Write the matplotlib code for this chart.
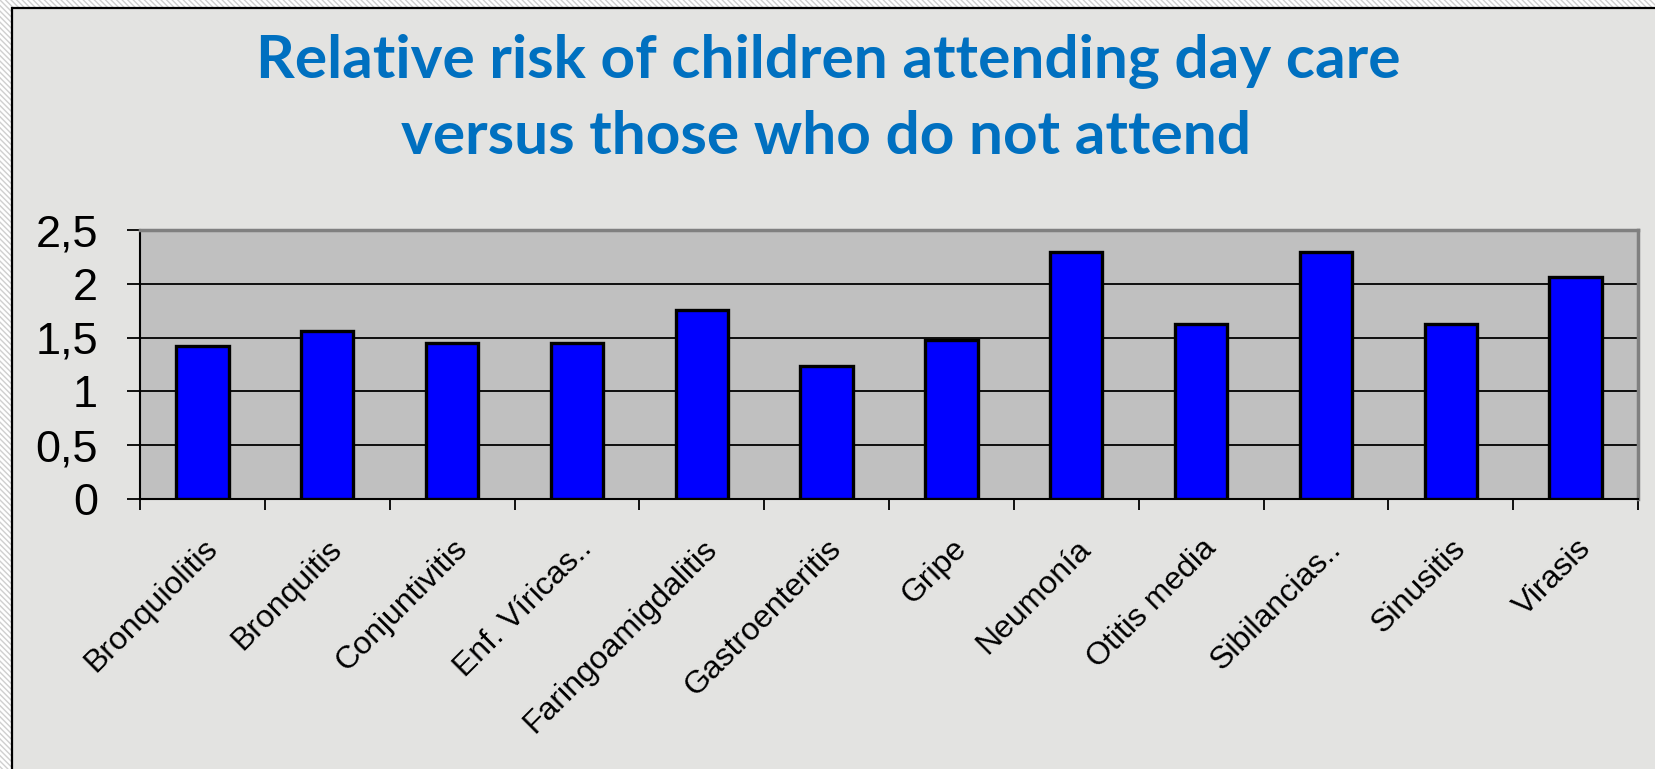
import matplotlib
matplotlib.use("Agg")
import matplotlib.pyplot as plt
from matplotlib.patches import Rectangle
import numpy as np

# --- chart data -------------------------------------------------------------
categories = [
    "Bronquiolitis", "Bronquitis", "Conjuntivitis", "Enf. Víricas..",
    "Faringoamigdalitis", "Gastroenteritis", "Gripe", "Neumonía",
    "Otitis media", "Sibilancias..", "Sinusitis", "Virasis",
]
relative_risk = [1.42, 1.56, 1.45, 1.45, 1.76, 1.24, 1.48, 2.30, 1.63, 2.30, 1.63, 2.06]
y_ticks = [0, 0.5, 1, 1.5, 2, 2.5]
y_tick_labels = ["0", "0,5", "1", "1,5", "2", "2,5"]
title_lines = ["Relative risk of children attending day care",
               "versus those who do not attend"]

# --- canvas (pixel helpers) -------------------------------------------------
W, H = 1655, 769
fig = plt.figure(figsize=(W / 100, H / 100), dpi=100)
fig.patch.set_facecolor("white")


def fx(px):
    return px / W


def fy(py):
    return 1 - py / H


plt.rcParams["hatch.linewidth"] = 1.0

# hatched slide margin and the light stone-grey slide panel
fig.add_artist(Rectangle((0, 0), 1, 1, transform=fig.transFigure,
                         facecolor="white", edgecolor="#CFCFCF", hatch="\\\\\\\\\\\\",
                         linewidth=0, zorder=-10))
fig.add_artist(Rectangle((fx(12), -0.05), 1.1, fy(8) + 0.05, transform=fig.transFigure,
                         facecolor="#E3E3E1", edgecolor="black", linewidth=1.6,
                         zorder=-9))

# --- title ------------------------------------------------------------------
title_kw = dict(ha="center", va="baseline", color="#0070C0",
                fontfamily="Lato", fontweight="bold", fontsize=43.5)
fig.text(fx(828), fy(78), title_lines[0], **title_kw)
fig.text(fx(826), fy(154), title_lines[1], **title_kw)

# --- plot area --------------------------------------------------------------
ax = fig.add_axes([fx(140), fy(499), fx(1638) - fx(140), fy(230) - fy(499)])
ax.set_facecolor("#C0C0C0")

x = np.arange(len(categories))
ax.bar(x, relative_risk, width=0.42, color="#0000FF",
       edgecolor="black", linewidth=2.4, zorder=3)

ax.set_xlim(-0.5, len(categories) - 0.5)
ax.set_ylim(0, 2.5)

ax.set_yticks(y_ticks)
ax.set_yticklabels(y_tick_labels, fontsize=32.5, fontfamily="Liberation Sans")
ax.yaxis.grid(True, color="black", linewidth=1.3)
ax.set_axisbelow(True)
ax.tick_params(axis="y", length=9.4, width=1.3, pad=21, colors="black")

ax.set_xticks(x)
ax.set_xticklabels(categories, fontsize=23, fontfamily="Liberation Sans",
                   rotation=45, ha="right", va="top", rotation_mode="anchor")
ax.tick_params(axis="x", which="major", length=0, pad=25)
ax.set_xticks(np.arange(-0.5, len(categories), 1.0), minor=True)
ax.tick_params(axis="x", which="minor", length=8, width=1.3, direction="out")

for side in ("left", "bottom"):
    ax.spines[side].set_color("black")
    ax.spines[side].set_linewidth(1.5)
for side in ("top", "right"):
    ax.spines[side].set_color("#808080")
    ax.spines[side].set_linewidth(2.5)

fig.savefig("out.png", dpi=100, facecolor=fig.get_facecolor())
